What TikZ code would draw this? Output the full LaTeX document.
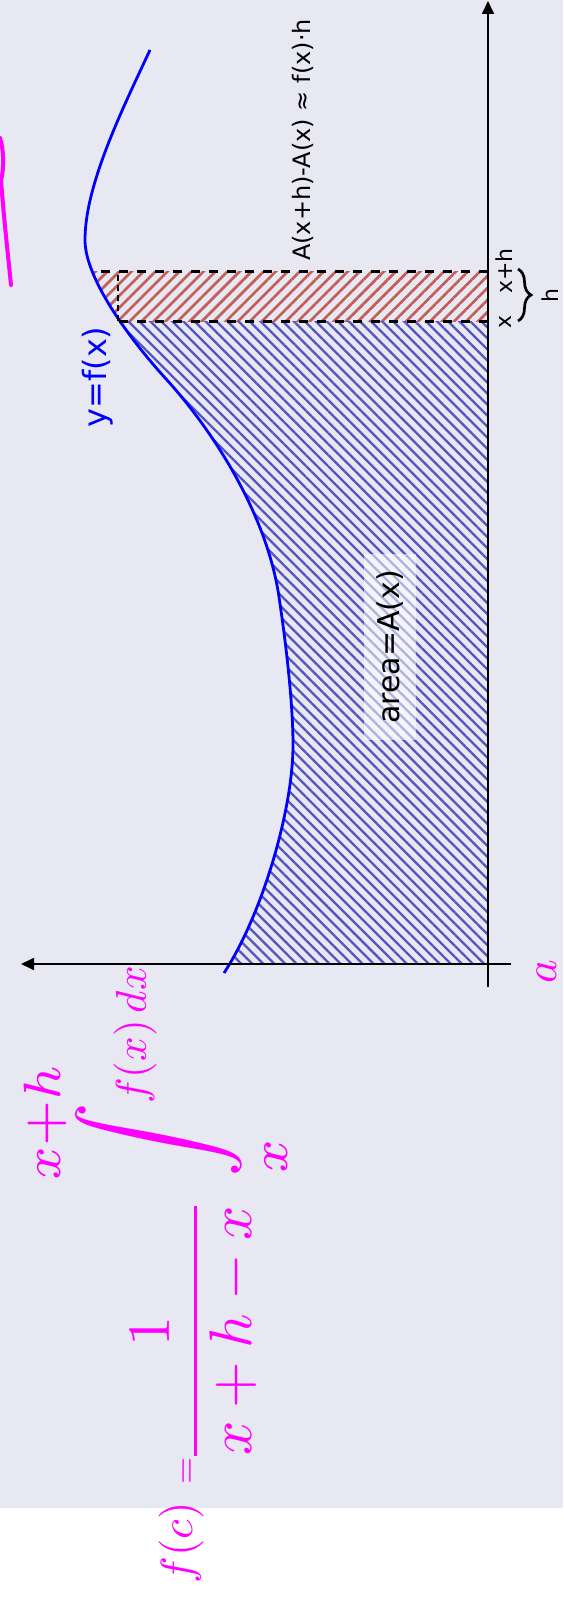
\documentclass[tikz,border=0pt]{standalone}
\usepackage{amsmath}
\usepackage{fontspec}
\setmainfont{DejaVu Sans}
\usetikzlibrary{arrows.meta,patterns.meta,decorations.pathreplacing}
\definecolor{paper}{RGB}{232,232,242}
\definecolor{hatchblue}{RGB}{85,85,190}
\definecolor{hatchred}{RGB}{195,95,90}
\definecolor{pen}{RGB}{255,0,255}
\newcommand\fcurve{(150,-50) .. controls (122,-110) and (85,-185) .. (85,-240) .. controls (85,-280) and (133,-343) .. (167,-380) .. controls (214,-432) and (267,-515) .. (279,-597) .. controls (285,-637) and (293,-700) .. (293,-745) .. controls (293,-810) and (262,-915) .. (224,-973)}

\begin{document}
\begin{tikzpicture}[
  x=1pt, y=1pt,
  >={Triangle[length=13pt,width=12pt]},
  every node/.style={inner sep=0pt},
  lbl/.style={rotate=90, anchor=base, font=\fontsize{22}{26}\selectfont},
  ink/.style={rotate=90, text=pen},
  axis/.style={line width=1.7pt},
  cut/.style={line width=3pt, dash pattern=on 9pt off 9pt}
]
\useasboundingbox (0,0) rectangle (563,-1605);
\fill[paper] (0,0) rectangle (563,-1508);

\coordinate (xtop) at (488,-1);
\coordinate (xbot) at (488,-987);
\coordinate (yleft) at (21,-964);
\coordinate (yright) at (511,-964);
\coordinate (xa) at (488,-321);
\coordinate (xb) at (488,-271);
\coordinate (fa) at (118,-321);
\coordinate (fb) at (93,-271);
\coordinate (fc) at (118,-271);

\begin{scope}
  \clip \fcurve -- (600,-973) -- (600,-50) -- cycle;
  \fill[pattern={Lines[angle=45,distance=8.5pt,line width=2.7pt]}, pattern color=hatchred] (0,-271) rectangle (xa);
  \fill[pattern={Lines[angle=-45,distance=7.8pt,line width=2.3pt]}, pattern color=hatchblue] (0,-321) rectangle (488,-964);
\end{scope}
\draw[blue, line width=2.8pt] \fcurve;

\draw[axis,->] (xbot) -- (xtop);
\draw[axis,->] (yright) -- (yleft);
\draw[cut] (xb) -- (fb);
\draw[cut] (xa) -- (fa);
\draw[line width=2pt, dash pattern=on 6pt off 4pt] (fa) -- (fc);

\node[lbl] (lx) at (511,-322) {x};
\node[lbl] (lxh) at (512,-271) {x+h};
\draw[decorate, decoration={brace, amplitude=13pt}, line width=2.7pt] (518,-269) -- (518,-321);
\node[lbl] (lh) at (558,-296) {h};
\node[lbl, font=\fontsize{24}{28}\selectfont] (diff) at (310,-140) {A(x+h)-A(x) ≈ f(x)·h};
\node[lbl, font=\fontsize{32}{36}\selectfont, text=blue] (graph) at (106,-377) {y=f(x)};
\node[lbl, anchor=center, font=\fontsize{30}{34}\selectfont, fill=white, fill opacity=0.55, text opacity=1, inner xsep=16pt, inner ysep=13pt] (area) at (390,-647) {area=A(x)};

\node[ink, scale=4.5] (mean) at (181,-1543) {$f(c)$};
\node[ink, scale=3.5] (eq) at (189,-1471) {$=$};
\node[ink, scale=6] (frac) at (194,-1331) {$\dfrac{1}{x+h-x}$};
\node[ink, scale=7.5] (int) at (156,-1140) {$\displaystyle\int\limits_x^{x+h}$};
\node[ink, scale=4.3] (fdx) at (135,-1035) {$f(x)\,dx$};
\node[ink, scale=4.5] (a) at (547,-972) {$a$};
\draw[pen, line width=4pt, line cap=round] (0,-138) .. controls (4,-150) and (4,-170) .. (1,-180) .. controls (4,-220) and (8,-255) .. (11,-285);
\end{tikzpicture}
\end{document}
